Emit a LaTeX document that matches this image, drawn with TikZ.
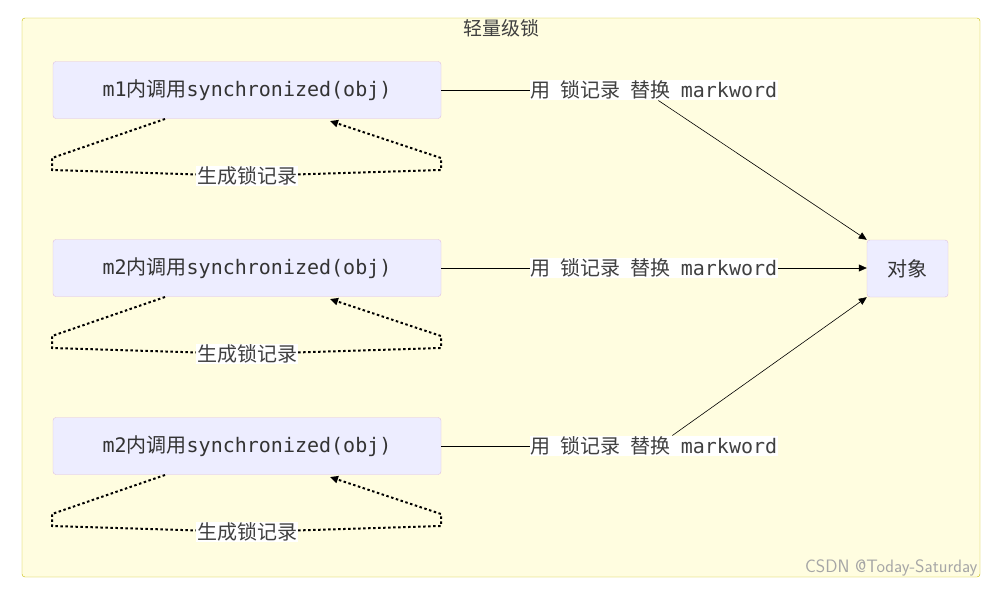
\documentclass[tikz,border=0pt]{standalone}
\usepackage{fontspec}
\setmainfont{Noto Sans CJK SC}
\setmonofont{DejaVu Sans Mono}
\usetikzlibrary{arrows.meta,positioning}
\begin{document}
\begin{tikzpicture}[x=1pt,y=1pt,>={Triangle[width=7pt,length=8pt]},
  box/.style={draw=violet!25, fill=blue!7, rounded corners=3pt, minimum width=388pt, minimum height=57pt, font=\fontsize{20}{20}\selectfont, text=black!80},
  lbl/.style={fill=white, inner sep=1pt, font=\fontsize{20}{20}\selectfont, text=black!75},
  loop/.style={draw, line width=2pt, dash pattern=on 2.5pt off 2.5pt},
  msg/.style={draw, line width=0.6pt}]
\useasboundingbox (0,0) rectangle (994,-589);
\draw[draw=yellow!50!olive, fill=yellow!12, rounded corners=3pt] (22,-18) rectangle (980,-577);
\node[font=\fontsize{19}{19}\selectfont, text=black!75] (title) at (501,-28) {轻量级锁};
\node[box, minimum width=81pt] (obj) at (907.5,-268.5) {对象};
\foreach \n/\t/\y in {m1/m1/90, m2/m2/268, m3/m2/446} {
  \node[box] (\n) at (247,-\y) {\texttt{\t}内调用\texttt{synchronized(obj)}};
  \coordinate (\n a) at (165,-\y-29);
  \coordinate (\n b) at (52,-\y-68);
  \coordinate (\n c) at (52,-\y-80);
  \coordinate (\n d) at (441,-\y-80);
  \coordinate (\n e) at (441,-\y-68);
  \coordinate (\n f) at (330,-\y-31);
  \node[lbl] (\n g) at (247,-\y-86) {生成锁记录};
  \draw[loop] (\n a) -- (\n b) -- (\n c) -- (\n g);
  \draw[loop,->] (\n g) -- (\n d) -- (\n e) -- (\n f);
  \node[lbl] (\n m) at (654,-\y-\y*0+0) {用\hspace{0.5em}锁记录\hspace{0.5em}替换\hspace{0.5em}\texttt{markword}};
  \draw[msg] (\n.east) -- (\n m.west);
}
\draw[msg,->] (m1m.south east) ++(-120pt,0) coordinate (t1) (t1) -- (obj.north west);
\draw[msg,->] (m2m.east) -- (obj.west |- m2m.east);
\draw[msg,->] (m3m.north east) ++(-106pt,0) coordinate (t3) (t3) -- (obj.south west);
\node[font=\fontsize{18}{18}\selectfont\sffamily, text=black!35, anchor=south east] (wm) at (981,-580) {CSDN @Today-Saturday};
\end{tikzpicture}
\end{document}
